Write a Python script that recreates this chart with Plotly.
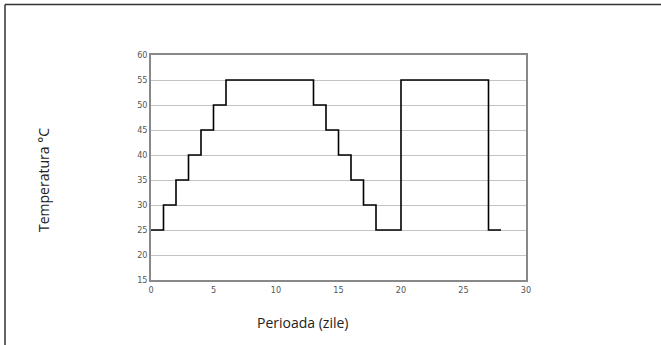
import plotly.graph_objects as go

# step profile: day -> temperature
zile = [0, 1, 2, 3, 4, 5, 6, 13, 14, 15, 16, 17, 18, 20, 27, 28]
temperatura = [25, 30, 35, 40, 45, 50, 55, 50, 45, 40, 35, 30, 25, 55, 25, 25]

x_ticks = [0, 5, 10, 15, 20, 25, 30]
y_ticks = [15, 20, 25, 30, 35, 40, 45, 50, 55, 60]

W, H = 661, 345
L, R, T, B = 151, 135, 55, 65
pw, ph = W - L - R, H - T - B


def px(x):
    return (x - L) / pw


def py(y):
    return (H - B - y) / ph


fig = go.Figure()
fig.add_trace(go.Scatter(x=zile, y=temperatura, mode='lines',
                         line=dict(shape='hv', color='black', width=1.6),
                         hoverinfo='skip', showlegend=False))

axis_font = dict(family='DejaVu Sans Condensed', size=9, color='#555555')
fig.update_xaxes(range=[0, 30], tickvals=x_ticks, showgrid=False, zeroline=False,
                 showline=True, linecolor='#888888', linewidth=1.5, mirror=True,
                 ticks='', tickfont=axis_font)
fig.update_yaxes(range=[15, 60], tickvals=y_ticks, showgrid=True, gridcolor='#c4c4c4',
                 gridwidth=1.2, zeroline=False, showline=True, linecolor='#888888',
                 linewidth=1.5, mirror=True, ticks='', tickfont=axis_font)

title_font = dict(family='Open Sans', size=14, color='#222222')
fig.update_layout(
    width=W, height=H, margin=dict(l=L, r=R, t=T, b=B),
    paper_bgcolor='white', plot_bgcolor='white',
    annotations=[
        dict(text='Perioada (zile)', x=px(302), y=py(322), xref='paper', yref='paper',
             xanchor='center', yanchor='middle', showarrow=False, font=title_font),
        dict(text='Temperatura °C', x=px(43), y=py(180), xref='paper', yref='paper',
             xanchor='center', yanchor='middle', showarrow=False, textangle=-90,
             font=title_font),
    ],
    shapes=[
        dict(type='line', xref='paper', yref='paper', x0=px(5), x1=px(661),
             y0=py(4.5), y1=py(4.5), line=dict(color='#333333', width=1.5)),
        dict(type='line', xref='paper', yref='paper', x0=px(5), x1=px(5),
             y0=py(4.5), y1=py(345), line=dict(color='#333333', width=1.5)),
    ],
)

fig.write_html("out.html", config={'displayModeBar': False},
               post_script="document.body.style.margin='0';document.body.style.overflow='hidden';")
